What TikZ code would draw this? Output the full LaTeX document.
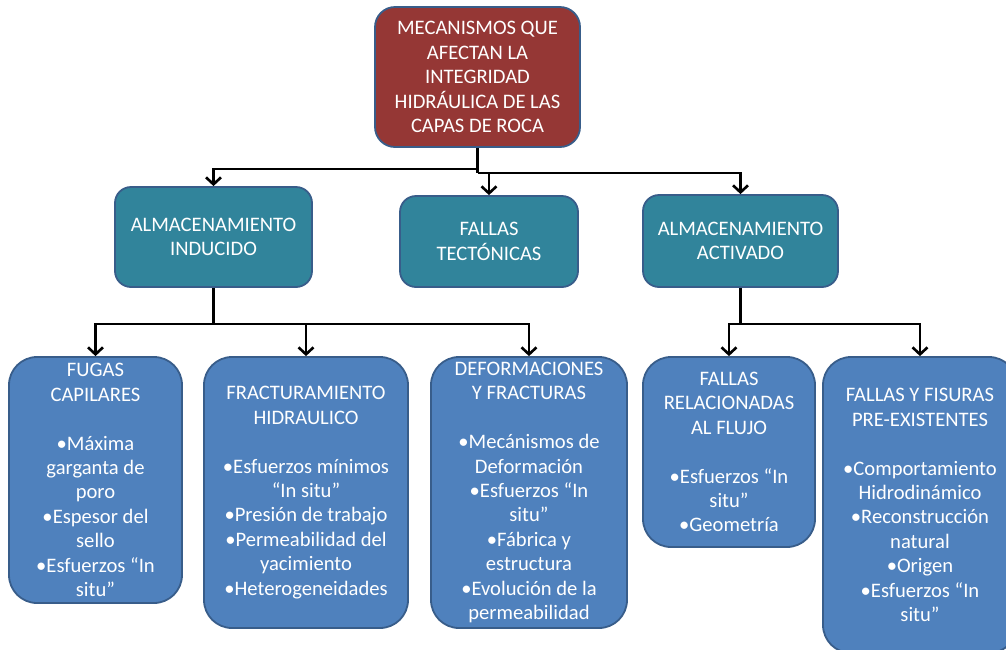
\documentclass[tikz,border=0pt]{standalone}
\usepackage{fontspec}
\setmainfont{Carlito}
\usetikzlibrary{arrows.meta,positioning,calc}
\definecolor{rootred}{HTML}{953735}
\definecolor{branchteal}{HTML}{31849B}
\definecolor{leafblue}{HTML}{4F81BD}
\definecolor{edgeblue}{HTML}{385D8A}
\tikzset{
  box/.style={
    rectangle, draw=edgeblue, line width=1.8pt, align=center,
    text=white, font=\fontsize{20.6}{24.4}\selectfont, inner sep=2pt
  },
  rootbox/.style={box, fill=rootred, rounded corners=20pt},
  branch/.style={box, fill=branchteal, rounded corners=16pt},
  leaf/.style={box, fill=leafblue, rounded corners=28pt},
  link/.style={line width=2.6pt, draw=black},
  arrow/.style={link, -{Straight Barb[length=7pt,width=15pt]}}
}
\newcommand{\gap}{\\[24.4pt]}

\begin{document}
\begin{tikzpicture}[x=1pt,y=-1pt]
\useasboundingbox (0,0) rectangle (1006,649);
\node[rootbox, minimum width=205pt, minimum height=140pt] (root) at (477.5,77) {MECANISMOS QUE\\AFECTAN LA\\INTEGRIDAD\\HIDRÁULICA DE LAS\\CAPAS DE ROCA};
\node[branch, minimum width=197pt, minimum height=100pt] (ind) at (213.5,237) {ALMACENAMIENTO\\INDUCIDO};
\node[branch, minimum width=178pt, minimum height=91pt] (tec) at (489,241.5) {FALLAS\\TECTÓNICAS};
\node[branch, minimum width=195pt, minimum height=92pt] (act) at (740.5,241) {ALMACENAMIENTO\\ACTIVADO};
\node[leaf, minimum width=173pt, minimum height=246pt] (fug) at (95.5,480) {FUGAS\\CAPILARES\gap •Máxima\\garganta de\\poro\\•Espesor del\\sello\\•Esfuerzos “In\\situ”};
\node[leaf, minimum width=204pt, minimum height=271pt] (fra) at (306,492.5) {FRACTURAMIENTO\\HIDRAULICO\gap •Esfuerzos mínimos\\“In situ”\\•Presión de trabajo\\•Permeabilidad del\\yacimiento\\•Heterogeneidades};
\node[leaf, minimum width=196pt, minimum height=271pt] (def) at (529,492.5) {DEFORMACIONES\\Y FRACTURAS\gap •Mecánismos de\\Deformación\\•Esfuerzos “In\\situ”\\•Fábrica y\\estructura\\•Evolución de la\\permeabilidad};
\node[leaf, minimum width=172pt, minimum height=190pt] (rel) at (729,452) {FALLAS\\RELACIONADAS\\AL FLUJO\gap •Esfuerzos “In\\situ”\\•Geometría};
\node[leaf, minimum width=194pt, minimum height=296pt] (fis) at (920,505) {FALLAS Y FISURAS\\PRE-EXISTENTES\gap •Comportamiento\\Hidrodinámico\\•Reconstrucción\\natural\\•Origen\\•Esfuerzos “In\\situ”};
% first level
\coordinate (rj) at ($(root.south)+(0,21)$);
\coordinate (rk) at ($(root.south)+(0,25)$);
\draw[arrow] (root.south) -- (rj) -| (ind.north);
\draw[link] (rj) -- (rk);
\draw[arrow] (rk) -| (tec.north);
\draw[arrow] (rk) -| (act.north);
% second level
\coordinate (ij) at ($(ind.south)+(0,36)$);
\draw[link] (ind.south) -- (ij);
\draw[arrow] (ij) -| (fug.north);
\draw[arrow] (ij) -| (fra.north);
\draw[arrow] (ij) -| (def.north);
\coordinate (aj) at ($(act.south)+(0,36)$);
\draw[link] (act.south) -- (aj);
\draw[arrow] (aj) -| (rel.north);
\draw[arrow] (aj) -| (fis.north);
\end{tikzpicture}
\end{document}
